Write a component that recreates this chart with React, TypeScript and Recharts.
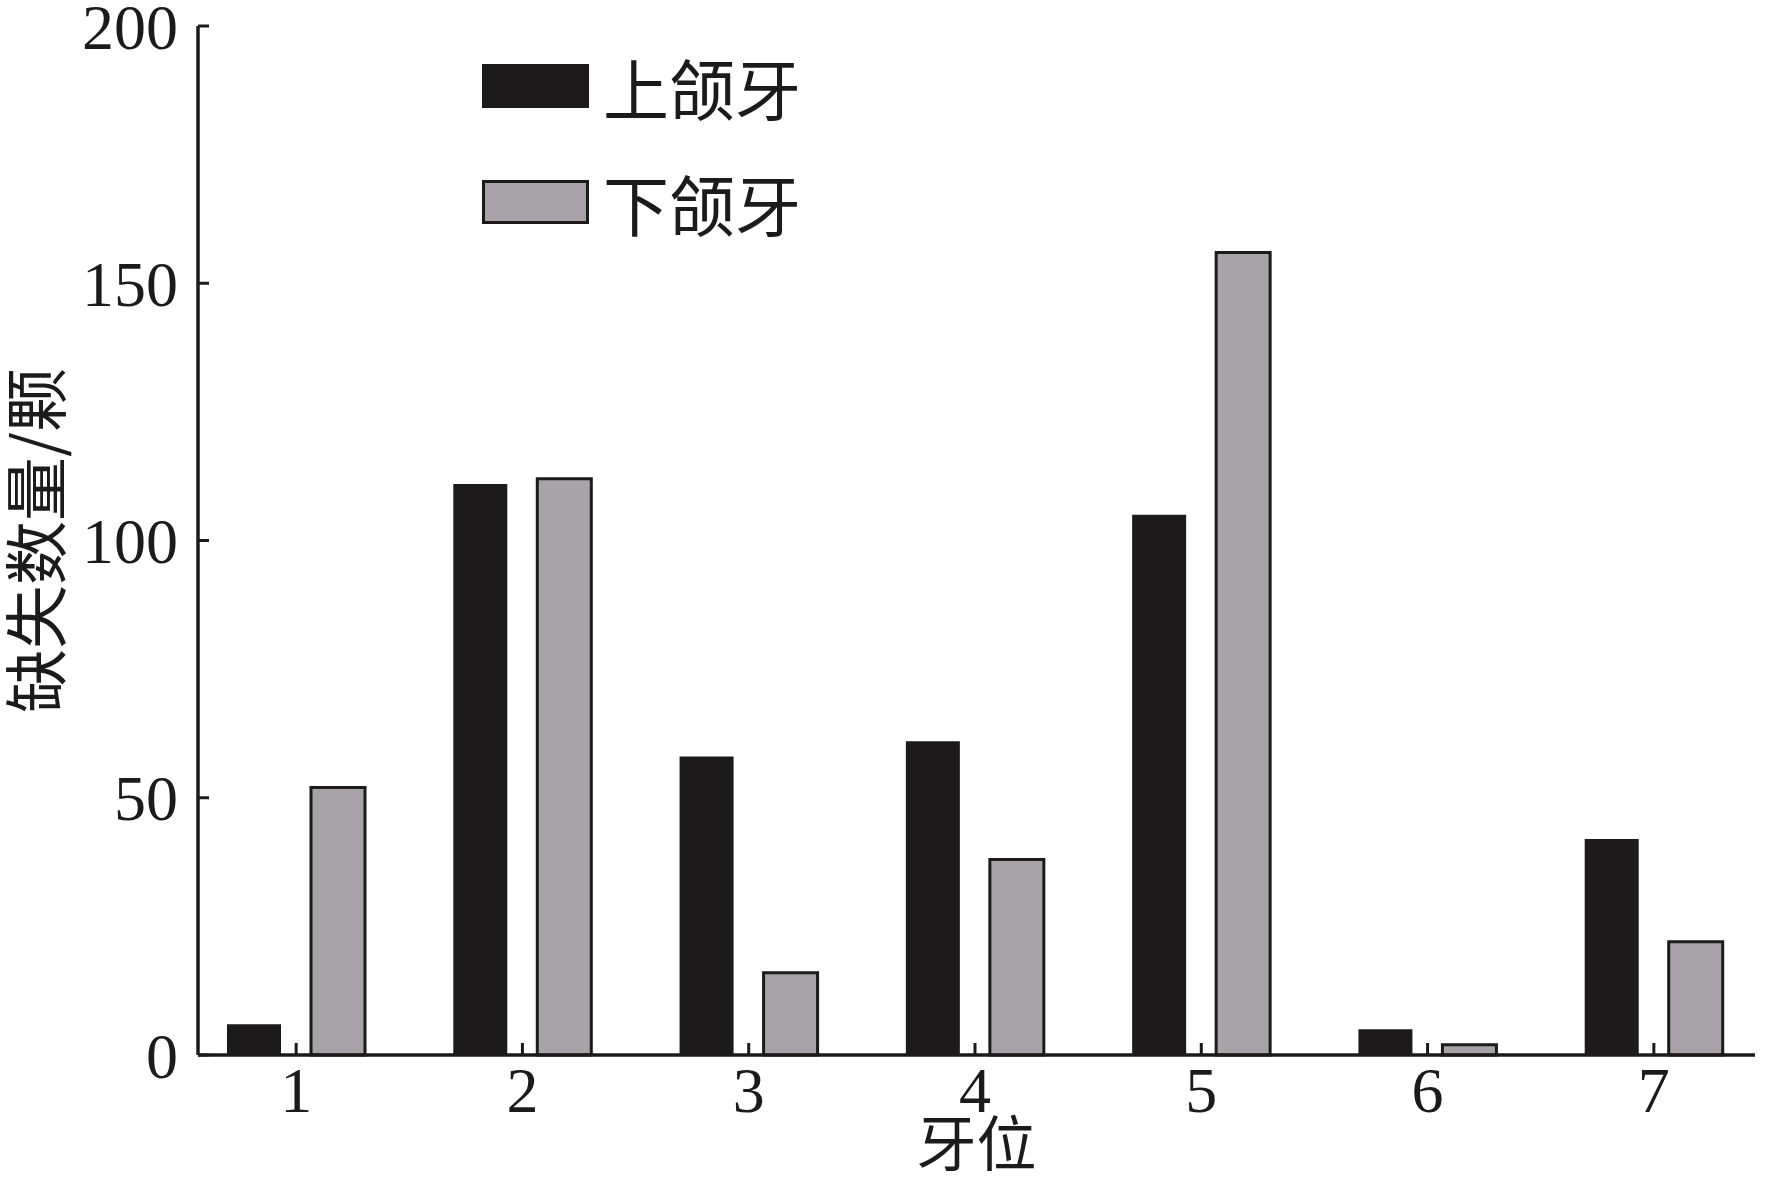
import React from "react";
import { BarChart, Bar, XAxis, YAxis, Legend, Label } from "recharts";

// 牙位 1-7, 上颌牙 / 下颌牙 缺失数量
const positions = ["1", "2", "3", "4", "5", "6", "7"];
const upperTeeth = [6, 111, 58, 61, 105, 5, 42];
const lowerTeeth = [52, 112, 16, 38, 156, 2, 22];
const yTicks = [0, 50, 100, 150, 200];
const seriesNames = ["上颌牙", "下颌牙"];

const INK = "#1c1a1b";
const GRAY = "#a7a3a8";
const SERIF = "'Liberation Serif', 'Times New Roman', serif";
const CJK = "'Noto Sans CJK SC', sans-serif";

const data = positions.map((p, i) => ({
  pos: p,
  upper: upperTeeth[i],
  lower: lowerTeeth[i],
}));

function LegendBox() {
  const rows = [
    { name: seriesNames[0], fill: INK, stroke: INK },
    { name: seriesNames[1], fill: GRAY, stroke: INK },
  ];
  return (
    <div style={{ display: "flex", flexDirection: "column", gap: 72 }}>
      {rows.map((r) => (
        <div key={r.name} style={{ display: "flex", alignItems: "center", height: 44 }}>
          <div
            style={{
              width: 101,
              height: 38,
              background: r.fill,
              border: `3px solid ${r.stroke}`,
              marginRight: 14,
            }}
          />
          <span style={{ fontFamily: CJK, fontSize: 66, color: INK, lineHeight: "44px" }}>
            {r.name}
          </span>
        </div>
      ))}
    </div>
  );
}

export default function App() {
  return (
    <div style={{ position: "absolute", left: 0, top: 0, width: 1770, height: 1181, background: "#fff" }}>
      <BarChart
        width={1770}
        height={1181}
        data={data}
        margin={{ top: 26, right: 15, left: 78, bottom: 0 }}
        barSize={54}
        barGap={30}
      >
        <XAxis
          dataKey="pos"
          height={126}
          padding={{ left: -15, right: -12 }}
          axisLine={{ stroke: INK, strokeWidth: 3.5 }}
          tickLine={{ stroke: INK, strokeWidth: 3 }}
          tickSize={-12}
          tickMargin={24}
          tick={{ fill: INK, fontSize: 64, fontFamily: SERIF }}
          interval={0}
        >
          <Label
            value="牙位"
            position="insideBottom"
            offset={15}
            style={{ fill: INK, fontSize: 60, fontFamily: CJK }}
          />
        </XAxis>
        <YAxis
          width={120}
          domain={[0, 200]}
          ticks={yTicks}
          interval={0}
          axisLine={{ stroke: INK, strokeWidth: 3.5 }}
          tickLine={{ stroke: INK, strokeWidth: 3 }}
          tickSize={-11}
          tickMargin={31}
          tick={{ fill: INK, fontSize: 64, fontFamily: SERIF }}
        >
          <Label
            content={({ viewBox }: any) => (
              <text
                x={32}
                y={viewBox.y + viewBox.height / 2}
                transform={`rotate(-90, 32, ${viewBox.y + viewBox.height / 2})`}
                textAnchor="middle"
                dominantBaseline="central"
                style={{ fill: INK, fontSize: 64, fontFamily: CJK }}
              >
                缺失数量/颗
              </text>
            )}
          />
        </YAxis>
        <Legend
          layout="vertical"
          align="center"
          verticalAlign="middle"
          wrapperStyle={{ left: 482, top: 64, width: "auto" }}
          content={() => <LegendBox />}
        />
        <Bar dataKey="upper" name={seriesNames[0]} fill={INK} isAnimationActive={false} />
        <Bar
          dataKey="lower"
          name={seriesNames[1]}
          fill={GRAY}
          stroke={INK}
          strokeWidth={3}
          isAnimationActive={false}
        />
      </BarChart>
    </div>
  );
}
